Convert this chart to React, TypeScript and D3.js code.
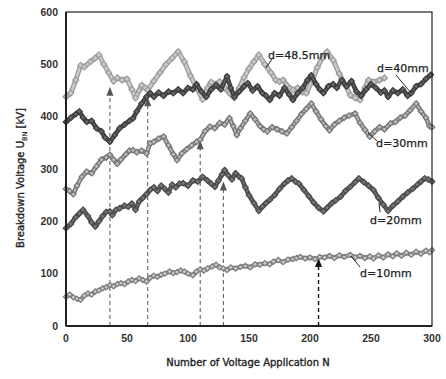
import React from "react";
import * as d3 from "d3";

// Up-and-down breakdown test: vertices of each run (application number N, breakdown voltage kV)
const n485 = [0, 4, 8, 12, 15, 20, 24, 27, 31, 35, 39, 42, 46, 50, 54, 57, 60, 62, 65, 67, 72, 77, 82, 87, 92, 97, 102, 107, 112, 116, 119, 123, 126, 130, 134, 138, 142, 146, 150, 154, 158, 163, 168, 172, 175, 178, 181, 186, 190, 194, 197, 202, 206, 210, 214, 219, 224, 229, 233, 237, 241, 245, 248, 252, 257, 261];
const u485 = [438, 445, 470, 498, 495, 505, 512, 518, 500, 484, 468, 474, 470, 472, 452, 436, 450, 460, 455, 451, 468, 484, 500, 512, 524, 505, 478, 455, 433, 455, 466, 462, 467, 455, 445, 436, 455, 475, 492, 505, 518, 500, 484, 470, 467, 470, 460, 451, 455, 447, 445, 470, 494, 512, 524, 508, 482, 460, 441, 436, 432, 455, 470, 466, 470, 474];

const n40 = [0, 4, 8, 11, 14, 17, 21, 25, 29, 32, 36, 40, 44, 48, 52, 55, 58, 62, 66, 69, 72, 76, 80, 84, 88, 92, 96, 100, 104, 107, 111, 115, 119, 123, 127, 132, 135, 138, 142, 146, 149, 153, 157, 161, 164, 167, 171, 175, 179, 183, 186, 190, 194, 198, 201, 205, 208, 211, 215, 219, 222, 226, 230, 234, 238, 242, 246, 250, 254, 258, 261, 264, 268, 272, 276, 280, 283, 287, 291, 295, 299];
const u40 = [390, 398, 405, 410, 398, 390, 392, 378, 372, 360, 352, 365, 378, 385, 392, 397, 410, 425, 438, 445, 438, 446, 440, 448, 445, 452, 445, 455, 452, 462, 448, 438, 452, 460, 452, 477, 455, 438, 448, 458, 464, 450, 458, 445, 440, 432, 445, 440, 455, 442, 432, 445, 455, 470, 479, 462, 452, 445, 458, 462, 455, 470, 458, 468, 448, 440, 452, 462, 455, 446, 450, 438, 450, 445, 452, 440, 445, 458, 462, 472, 480];

const n30 = [0, 3, 6, 9, 13, 17, 21, 25, 29, 33, 36, 39, 42, 45, 49, 52, 55, 58, 62, 66, 69, 72, 76, 80, 84, 88, 91, 95, 99, 103, 107, 110, 114, 118, 122, 126, 130, 134, 137, 140, 143, 147, 151, 155, 159, 162, 165, 169, 173, 177, 181, 185, 189, 193, 197, 201, 205, 209, 213, 216, 220, 224, 228, 232, 237, 241, 245, 249, 253, 257, 261, 266, 270, 274, 278, 282, 287, 291, 295, 298, 300];
const u30 = [262, 258, 252, 268, 285, 295, 292, 305, 318, 322, 327, 318, 310, 318, 328, 335, 336, 332, 335, 330, 349, 352, 358, 362, 345, 328, 317, 330, 338, 345, 352, 356, 372, 381, 378, 388, 385, 397, 382, 365, 378, 392, 406, 395, 382, 376, 372, 380, 376, 372, 368, 380, 392, 405, 415, 425, 410, 395, 382, 374, 385, 392, 398, 402, 406, 388, 375, 362, 372, 380, 376, 387, 390, 398, 402, 412, 425, 410, 398, 382, 380];

const n20 = [0, 4, 8, 11, 14, 18, 21, 24, 27, 30, 33, 36, 38, 41, 44, 48, 51, 54, 57, 60, 63, 66, 69, 72, 75, 78, 81, 84, 87, 90, 93, 96, 100, 104, 108, 112, 116, 119, 122, 125, 128, 130, 133, 136, 139, 142, 144, 147, 150, 154, 158, 161, 164, 167, 171, 175, 179, 182, 185, 188, 191, 195, 199, 203, 207, 211, 214, 218, 221, 225, 229, 233, 237, 240, 244, 248, 252, 256, 260, 264, 268, 272, 276, 280, 284, 288, 291, 294, 297, 300];
const u20 = [187, 195, 208, 215, 222, 210, 198, 190, 200, 210, 218, 219, 212, 222, 225, 230, 228, 234, 222, 238, 245, 252, 260, 265, 258, 268, 262, 255, 270, 265, 272, 273, 268, 278, 276, 285, 278, 272, 266, 278, 290, 298, 288, 280, 292, 285, 282, 265, 250, 235, 220, 228, 235, 241, 250, 262, 272, 278, 282, 276, 272, 260, 248, 236, 226, 219, 226, 235, 240, 247, 258, 266, 275, 282, 275, 268, 260, 245, 232, 220, 230, 238, 247, 255, 262, 270, 276, 282, 280, 276];

const n10 = [0, 3, 6, 9, 12, 15, 18, 21, 24, 27, 30, 33, 36, 39, 42, 45, 48, 51, 54, 57, 60, 63, 66, 69, 72, 75, 78, 81, 85, 88, 91, 94, 97, 100, 104, 107, 110, 113, 116, 120, 123, 126, 129, 132, 135, 139, 143, 147, 151, 155, 159, 163, 167, 170, 174, 178, 182, 186, 189, 192, 196, 200, 204, 208, 212, 216, 220, 224, 228, 233, 237, 241, 245, 249, 252, 256, 260, 264, 268, 271, 275, 279, 283, 287, 291, 295, 298, 300];
const u10 = [56, 60, 55, 52, 50, 58, 62, 60, 66, 68, 72, 74, 78, 76, 80, 82, 80, 85, 88, 86, 91, 88, 85, 92, 96, 94, 98, 100, 104, 101, 103, 106, 104, 100, 97, 104, 108, 106, 110, 114, 117, 112, 110, 107, 112, 110, 113, 115, 112, 118, 117, 120, 118, 123, 126, 122, 127, 128, 130, 132, 129, 131, 128, 132, 131, 134, 130, 135, 132, 136, 131, 134, 130, 133, 129, 135, 131, 137, 133, 139, 134, 140, 136, 142, 138, 144, 141, 145];

// Marked applications (dashed guides with arrows)
const guideN = [36, 67, 110, 129, 207];
const guideU = [457, 437, 355, 276, 130];
const guideBold = [false, false, false, false, true];

const xTicks = [0, 50, 100, 150, 200, 250, 300];
const yTicks = [0, 100, 200, 300, 400, 500, 600];

const labelText = ["d=48.5mm", "d=40mm", "d=30mm", "d=20mm", "d=10mm"];

type Style = { outer: string; outerW: number; inner: string; innerW: number; dash: string; mk: number };

const runs: { id: string; n: number[]; u: number[]; s: Style }[] = [
  { id: "r10", n: n10, u: u10, s: { outer: "#7e7e7e", outerW: 4.4, inner: "#cfcfcf", innerW: 1.8, dash: "1.6 1.2", mk: 2.6 } },
  { id: "r20", n: n20, u: u20, s: { outer: "#4c4c4c", outerW: 4.6, inner: "#777", innerW: 1.4, dash: "2 1.5", mk: 2.8 } },
  { id: "r30", n: n30, u: u30, s: { outer: "#777", outerW: 4.6, inner: "#bdbdbd", innerW: 1.7, dash: "2 1.3", mk: 2.8 } },
  { id: "r485", n: n485, u: u485, s: { outer: "#9c9c9c", outerW: 5, inner: "#cbcbcb", innerW: 2.4, dash: "2.5 1", mk: 3 } },
  { id: "r40", n: n40, u: u40, s: { outer: "#3c3c3c", outerW: 4.6, inner: "#686868", innerW: 1.4, dash: "2 1.5", mk: 2.8 } },
];

export default function App() {
  const W = 446;
  const H = 379;
  const x = d3.scaleLinear().domain([0, 300]).range([66, 432]);
  const y = d3.scaleLinear().domain([0, 600]).range([326, 12]);

  const line = (n: number[], u: number[]) =>
    d3
      .line<number>()
      .x((_, i) => x(n[i]))
      .y((_, i) => y(u[i]))(u) || "";

  const tickFont = "'Liberation Sans', Arial, sans-serif";
  const labFont = "'DejaVu Sans', Verdana, sans-serif";

  // label anchors (text position and leader line)
  const labels = [
    { tx: 268, ty: 59, l: [266, 68, 272, 59] },
    { tx: 377, ty: 72, l: [396, 75, 411, 93] },
    { tx: 376, ty: 147, l: [368, 133, 377, 141] },
    { tx: 370, ty: 224, l: [379, 203, 380, 212] },
    { tx: 360, ty: 277, l: [351, 256, 360, 267] },
  ];

  return (
    <svg
      width={W}
      height={H}
      style={{ position: "absolute", left: 0, top: 0, background: "#fff" }}
    >
      <defs>
        <filter id="soft" x="-5%" y="-5%" width="110%" height="110%">
          <feGaussianBlur stdDeviation={0.35} />
        </filter>
        {runs.map((r) => (
          <marker
            key={"m" + r.id}
            id={"mk-" + r.id}
            markerUnits="userSpaceOnUse"
            markerWidth={12}
            markerHeight={12}
            refX={6}
            refY={6}
            overflow="visible"
          >
            <path
              d={`M6,${6 - r.s.mk} L${6 + r.s.mk},6 L6,${6 + r.s.mk} L${6 - r.s.mk},6 Z`}
              fill={r.s.inner}
              stroke={r.s.outer}
              strokeWidth={1.2}
            />
          </marker>
        ))}
      </defs>
      <rect width={W} height={H} fill="#fff" />

      {/* dashed guides */}
      {guideN.map((g, i) => {
        const gx = x(g);
        const top = y(guideU[i]);
        const col = guideBold[i] ? "#111" : "#555";
        return (
          <g key={"g" + i}>
            <line
              x1={gx}
              x2={gx}
              y1={y(0)}
              y2={top + 6}
              stroke={col}
              strokeWidth={guideBold[i] ? 1.4 : 1}
              strokeDasharray="4 3"
            />
            <path
              d={`M${gx},${top} L${gx - 3.5},${top + 9} L${gx + 3.5},${top + 9} Z`}
              fill={col}
            />
          </g>
        );
      })}

      {/* series */}
      <g filter="url(#soft)">
        {runs.map((r) => {
          const d = line(r.n, r.u);
          return (
            <g key={r.id} fill="none" strokeLinejoin="round" strokeLinecap="round">
              <path d={d} stroke={r.s.outer} strokeWidth={r.s.outerW} />
              <path d={d} stroke={r.s.inner} strokeWidth={r.s.innerW} strokeDasharray={r.s.dash} />
              <path
                d={d}
                stroke="none"
                markerStart={`url(#mk-${r.id})`}
                markerMid={`url(#mk-${r.id})`}
                markerEnd={`url(#mk-${r.id})`}
              />
            </g>
          );
        })}
      </g>

      {/* frame */}
      <rect x={66} y={12} width={366} height={314} fill="none" stroke="#222" strokeWidth={1.2} />
      <line x1={66} x2={432} y1={326} y2={326} stroke="#222" strokeWidth={2} />
      <line x1={66} x2={66} y1={12} y2={326} stroke="#222" strokeWidth={2} />

      {/* tick labels */}
      {yTicks.map((t) => (
        <text
          key={"y" + t}
          x={58}
          y={y(t) + 3.6}
          textAnchor="end"
          fontFamily={tickFont}
          fontWeight="bold"
          fontSize={10.5}
          fill="#333"
        >
          {t}
        </text>
      ))}
      {xTicks.map((t) => (
        <text
          key={"x" + t}
          x={x(t)}
          y={342}
          textAnchor="middle"
          fontFamily={tickFont}
          fontWeight="bold"
          fontSize={10.5}
          fill="#333"
        >
          {t}
        </text>
      ))}

      {/* axis titles */}
      <text
        x={248}
        y={366}
        textAnchor="middle"
        fontFamily={labFont}
        fontSize={10}
        fill="#222"
        stroke="#222"
        strokeWidth={0.35}
      >
        Number of Voltage Application N
      </text>
      <text
        transform="translate(24,178) rotate(-90)"
        textAnchor="middle"
        fontFamily={labFont}
        fontSize={10}
        fill="#222"
        stroke="#222"
        strokeWidth={0.35}
      >
        Breakdown Voltage U
        <tspan fontSize={6.5} dy={2.5} strokeWidth={0.2}>BN</tspan>
        <tspan dy={-2.5}> [kV]</tspan>
      </text>

      {/* series labels */}
      {labels.map((lb, i) => (
        <g key={"l" + i}>
          <line x1={lb.l[0]} y1={lb.l[1]} x2={lb.l[2]} y2={lb.l[3]} stroke="#222" strokeWidth={1} />
          <text
            x={lb.tx}
            y={lb.ty}
            fontFamily={labFont}
            fontSize={11}
            fill="#222"
            stroke="#222"
            strokeWidth={0.25}
          >
            {labelText[i]}
          </text>
        </g>
      ))}
    </svg>
  );
}
